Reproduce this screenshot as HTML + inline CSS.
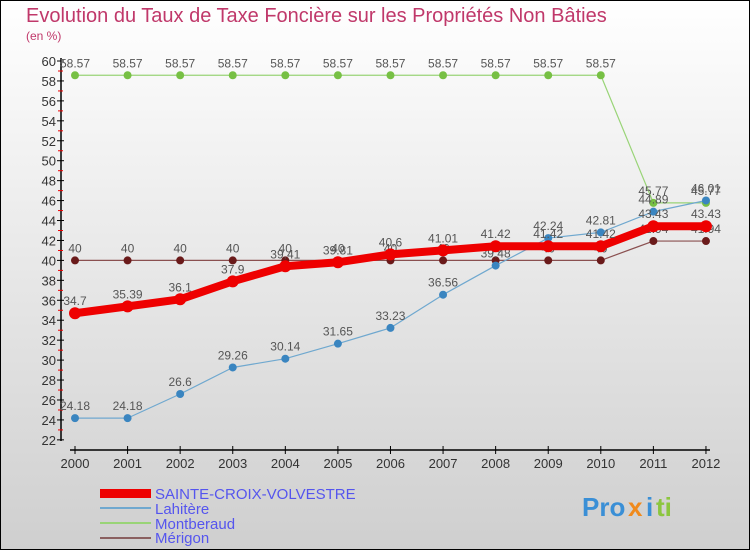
<!DOCTYPE html>
<html><head><meta charset="utf-8">
<style>
body{margin:0;width:750px;height:550px;overflow:hidden;font-family:"Liberation Sans",sans-serif}
svg text{font-family:"Liberation Sans",sans-serif}
</style></head>
<body>
<svg id="chart" width="750" height="550" viewBox="0 0 750 550" xmlns="http://www.w3.org/2000/svg">
<defs>
<linearGradient id="bg" x1="0" y1="0" x2="0" y2="1">
<stop offset="0" stop-color="#ffffff"/><stop offset="1" stop-color="#cfcfcf"/>
</linearGradient>
</defs>
<rect x="0.5" y="0.5" width="749" height="549" fill="url(#bg)" stroke="#000"/>
<text x="26" y="22" font-size="20" fill="#c0386a">Evolution du Taux de Taxe Foncière sur les Propriétés Non Bâties</text>
<text x="26" y="40" font-size="12" fill="#c0386a">(en %)</text>
<g id="axes"></g>
<g id="series"></g>
<g id="legend">
<rect x="100" y="489" width="51" height="9" fill="#ee0000"/>
<text x="155" y="499" font-size="15" fill="#5555ee">SAINTE-CROIX-VOLVESTRE</text>
<rect x="100" y="507" width="51" height="2" fill="#6fa8cf"/>
<text x="155" y="514" font-size="15" fill="#5555ee">Lahitère</text>
<rect x="100" y="522" width="51" height="2" fill="#99d477"/>
<text x="155" y="529" font-size="15" fill="#5555ee">Montberaud</text>
<rect x="100" y="537" width="51" height="2" fill="#8a6060"/>
<text x="155" y="543" font-size="15" fill="#5555ee">Mérigon</text>
</g>
<g font-size="26" font-weight="bold">
<text x="582" y="516" fill="#3a8fd6">Pro</text><text x="628" y="516" fill="#f08a1c">x</text><text x="646" y="516" fill="#3a8fd6">i</text><text x="656" y="516" fill="#8cc63f">ti</text>
</g>
</svg>
<script>
const years=[2000,2001,2002,2003,2004,2005,2006,2007,2008,2009,2010,2011,2012];
const yTicks=[22,24,26,28,30,32,34,36,38,40,42,44,46,48,50,52,54,56,58,60];
const sainte=[34.7,35.39,36.1,37.9,39.41,39.81,40.6,41.01,41.42,41.42,41.42,43.43,43.43];
const lahitere=[24.18,24.18,26.6,29.26,30.14,31.65,33.23,36.56,39.48,42.24,42.81,44.89,46.01];
const montberaud=[58.57,58.57,58.57,58.57,58.57,58.57,58.57,58.57,58.57,58.57,58.57,45.77,45.77];
const merigon=[40,40,40,40,40,40,40,40,40,40,40,41.94,41.94];
const NS='http://www.w3.org/2000/svg';
const X=i=>75+i*52.58;
const Y=v=>61+(60-v)*9.97;
function mk(t,a,p){const e=document.createElementNS(NS,t);for(const k in a)e.setAttribute(k,a[k]);p.appendChild(e);return e;}
const ax=document.getElementById('axes');
let l=mk('line',{x1:61,y1:58,x2:61,y2:441,stroke:'#000','stroke-width':1.5},ax);


yTicks.forEach((v,k)=>{
 const y=Y(v);
 let t=mk('line',{x1:57,y1:y,x2:64,y2:y,stroke:'#000'},ax);
 
 
 if(k>0){
  let r=mk('line',{x1:58,y1:y+10,x2:63,y2:y+10,stroke:'#e00'},ax);
  
  
 }
 let tx=mk('text',{x:56,y:y+5,'font-size':13,'text-anchor':'end',fill:'#333'},ax);
 tx.textContent=v;
 
 
});
l=mk('line',{x1:70,y1:450,x2:710,y2:450,stroke:'#000','stroke-width':1.5},ax);


years.forEach((yr,i)=>{
 let t=mk('line',{x1:X(i),y1:446,x2:X(i),y2:454,stroke:'#000'},ax);
 
 
 let tx=mk('text',{x:X(i),y:468,'font-size':13,'text-anchor':'middle',fill:'#333'},ax);
 tx.textContent=yr;
 
 
});
const sg=document.getElementById('series');
function series(name,data,color,w,r,mcol){
 const g=mk('g',{},sg);
 
 
 const pl=mk('polyline',{points:data.map((v,i)=>X(i)+','+Y(v)).join(' '),fill:'none',stroke:color,'stroke-width':w,'stroke-linejoin':'round'},g);
 
 
 data.forEach((v,i)=>{
  const c=mk('circle',{cx:X(i),cy:Y(v),r:r,fill:mcol},g);
  
  
  const t=mk('text',{x:X(i),y:Y(v)-8,'font-size':12,'text-anchor':'middle',fill:'#555'},g);
  t.textContent=v;
  
  
 });
}
series('merigon',merigon,'#8a5050',1.2,4,'#6a1a1a');
series('montberaud',montberaud,'#99d477',1.2,4,'#77c044');
series('lahitere',lahitere,'#6fa8cf',1.2,4,'#3a85c0');
series('sainte-croix',sainte,'#ee0000',8,6,'#ee0000');
</script>
</body></html>
